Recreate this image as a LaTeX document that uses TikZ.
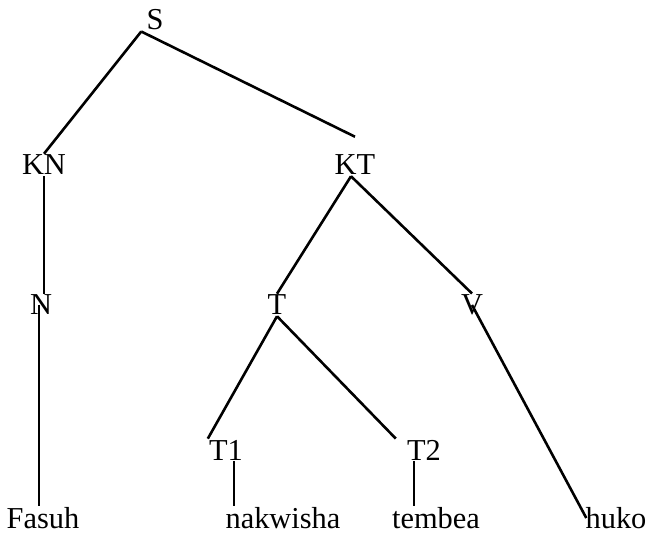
\documentclass[tikz,border=0pt]{standalone}
\usepackage{fontspec}
\setmainfont{Liberation Serif}
\begin{document}
\begin{tikzpicture}[x=0.5pt, y=-0.5pt, every node/.style={inner sep=0pt, font=\fontsize{15.2}{18}\selectfont}, line width=1.3pt]
\useasboundingbox (0,0) rectangle (649,539);

\node (s) at (155,20) {S};
\node (kn) at (44,165) {KN};
\node (kt) at (355,165) {KT};
\node (n) at (41,305) {N};
\node (t) at (277,305) {T};
\node (v) at (472,305) {V};
\node (t1) at (226,450) {T1};
\node (t2) at (424,450) {T2};
\node (fasuh) at (43,518) {Fasuh};
\node (nakwisha) at (283,518) {nakwisha};
\node (tembea) at (436,518) {tembea};
\node (huko) at (616,518) {huko};

\draw ([xshift=-2pt]s.south west) -- (kn.north);
\draw ([xshift=-2pt]s.south west) -- ([yshift=8.5pt]kt.north);
\draw (kn.south) -- (kn.south |- n.north);
\draw ([xshift=-2pt]kt.south) -- (t.north);
\draw ([xshift=-2pt]kt.south) -- (v.north);
\draw ([xshift=-1pt]n.center) -- ([xshift=-1pt]n.center |- fasuh.north);
\draw (t.south) -- (t1.north west);
\draw (t.south) -- ([xshift=-5pt]t2.north west);
\draw ([xshift=4pt]t1.south) -- ([xshift=4pt]t1.south |- nakwisha.north);
\draw ([xshift=-5pt]t2.south) -- ([xshift=-5pt]t2.south |- tembea.north);
\draw (v.center) -- ([xshift=1pt]huko.west);
\end{tikzpicture}
\end{document}
